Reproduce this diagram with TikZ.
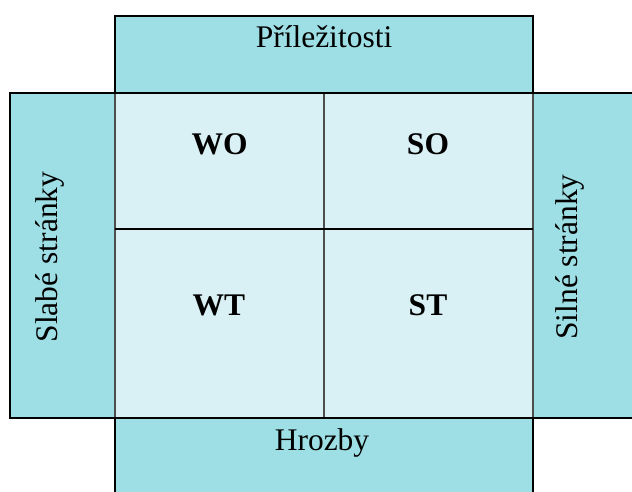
\documentclass[tikz,border=0pt]{standalone}
\usepackage{fontspec}
\setmainfont{Liberation Serif}
\usepackage{xcolor}
\usepackage{tikz}
\usetikzlibrary{positioning}
\definecolor{outerfill}{RGB}{158,223,229}
\definecolor{innerfill}{RGB}{217,241,245}
\definecolor{divgray}{RGB}{77,77,77}

\begin{document}
\begin{tikzpicture}[x=1pt,y=-1pt,outline/.style={line width=2pt,black},divider/.style={line width=1.2pt,divgray}]
			\tikzstyle{boxtext}=[font=\fontsize{31.5}{36}\selectfont,inner sep=0pt,anchor=base]
			\tikzstyle{quadtext}=[boxtext,font=\fontsize{31.5}{36}\selectfont\bfseries]
			
			\useasboundingbox (0,0) rectangle (632,491);
			\clip (0,0) rectangle (632,491);
			
			% okolni pole
			\fill[outerfill] (115,16) rectangle (533,93);
			\fill[outerfill] (10,93) rectangle (115,418);
			\fill[outerfill] (533,93) rectangle (640,418);
			\fill[outerfill] (115,418) rectangle (533,500);
			\fill[innerfill] (115,93) rectangle (533,418);
			
			% deleni
			\draw[divider] (115,93) -- (115,418);
			\draw[divider] (533,93) -- (533,418);
			\draw[divider] (324,93) -- (324,418);
			\draw[line width=1.5pt] (115,229) -- (533,229);
			
			% obrys
			\draw[outline] (115,93) -- (115,16) -- (533,16) -- (533,93);
			\draw[outline] (640,93) -- (10,93) -- (10,418) -- (640,418);
			\draw[outline] (115,500) -- (115,418);
			\draw[outline] (533,500) -- (533,418);
			
			\node[boxtext] (prilez) at (324,47) {Příležitosti};
			\node[boxtext] (hrozby) at (322,450) {Hrozby};
			\node[boxtext,rotate=90] (slabe) at (57,257) {Slabé stránky};
			\node[boxtext,rotate=90] (silne) at (577,257) {Silné stránky};
			
			\node[quadtext] (wo) at (219.5,154) {WO};
			\node[quadtext] (so) at (428,154) {SO};
			\node[quadtext] (wt) at (219,315) {WT};
			\node[quadtext] (st) at (428,315) {ST};
		\end{tikzpicture}
\end{document}
